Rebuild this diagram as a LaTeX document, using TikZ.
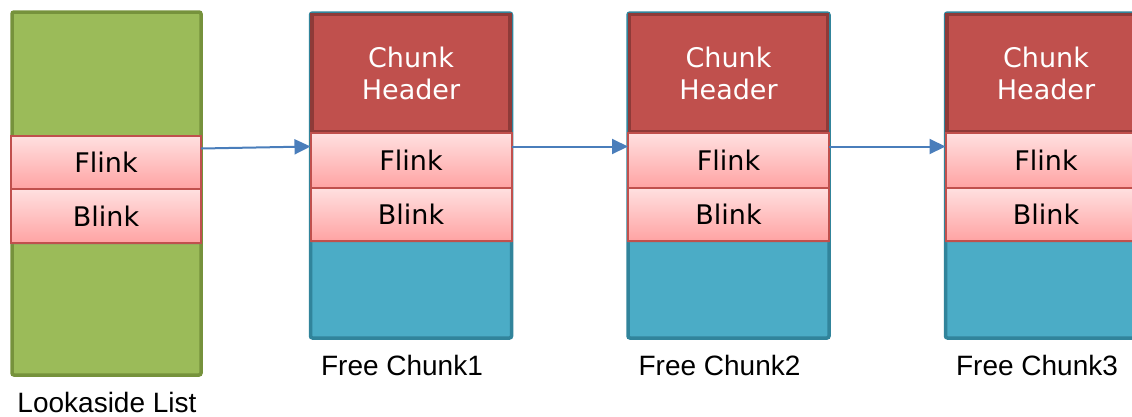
\documentclass[tikz,border=0pt]{standalone}
\usepackage{fontspec}
\setmainfont{Liberation Sans}
\newfontfamily\boxfont{DejaVu Sans}
\usetikzlibrary{positioning,arrows.meta,shadows}

\definecolor{listgreen}{HTML}{9BBB59}
\definecolor{listgreendk}{HTML}{76923C}
\definecolor{chunkblue}{HTML}{4BACC6}
\definecolor{chunkbluedk}{HTML}{31849B}
\definecolor{hdred}{HTML}{C0504D}
\definecolor{hdreddk}{HTML}{8E3A38}
\definecolor{linktop}{HTML}{FFE0E0}
\definecolor{linkbot}{HTML}{FFA3A3}
\definecolor{linkblue}{HTML}{4A7EBB}

\tikzset{
  block/.style={rectangle, inner sep=0pt, outer sep=0pt, line width=3.5pt, rounded corners=2pt},
  listbox/.style={block, fill=listgreen, draw=listgreendk},
  chunkbox/.style={block, fill=chunkblue, draw=chunkbluedk},
  hdbox/.style={block, rounded corners=0pt, fill=hdred, draw=hdreddk, text=white,
    align=center, font=\boxfont\fontsize{27}{32}\selectfont},
  ptrbox/.style={rectangle, inner sep=0pt, outer sep=0pt, line width=2pt, draw=hdred,
    top color=linktop, bottom color=linkbot, font=\boxfont\fontsize{27}{30}\selectfont,
    drop shadow={opacity=0.25, shadow xshift=0pt, shadow yshift=-2pt}},
  caption/.style={font=\fontsize{28}{30}\selectfont},
  link/.style={draw=linkblue, line width=2pt, -{Triangle[length=16pt,width=15pt]}}
}

\begin{document}
\begin{tikzpicture}[x=1pt, y=-1pt]
  \useasboundingbox (0,0) rectangle (1132,416);
  \clip (0,0) rectangle (1132,416);

  % lookaside list head
  \node[listbox, minimum width=189pt, minimum height=363pt] (look) at (106.5,193.5) {};
  \node[ptrbox, minimum width=190pt, minimum height=53pt] (fl0) at (106,162.5) {Flink};
  \node[ptrbox, minimum width=190pt, minimum height=54pt, below=0pt of fl0] (bl0) {Blink};
  \node[caption] (lookname) at (107,402) {Lookaside List};

  % free chunks
  \foreach \i/\cx in {1/411, 2/728.5, 3/1046} {
    \node[chunkbox, minimum width=201pt, minimum height=325pt] (ch\i) at (\cx,175.5) {};
    \node[hdbox, minimum width=198pt, minimum height=117pt] (hd\i) at (\cx,73) {Chunk\\Header};
    \node[ptrbox, minimum width=201pt, minimum height=55pt] (fl\i) at (\cx,160.5) {Flink};
    \node[ptrbox, minimum width=201pt, minimum height=53pt, below=0pt of fl\i] (bl\i) {Blink};
    \node[caption] (name\i) at (\cx-9,365) {Free Chunk\i};
  }

  % forward links
  \foreach \a/\b in {0/1, 1/2, 2/3}
    \draw[link] ([yshift=14pt]fl\a.east) -- ([yshift=14pt]fl\b.west);
\end{tikzpicture}
\end{document}
